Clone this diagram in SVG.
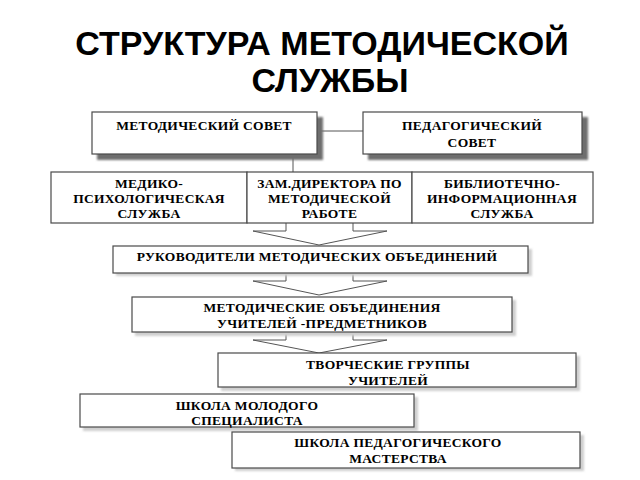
<svg xmlns="http://www.w3.org/2000/svg" width="640" height="480" viewBox="0 0 640 480">
<defs>
<filter id="sh" x="-10%" y="-20%" width="130%" height="160%"><feGaussianBlur stdDeviation="1"/></filter>
<style>
.title{font-family:"Liberation Sans",Arial,sans-serif;font-weight:bold;font-size:34px;fill:#000;text-anchor:middle}
.t{font-family:"Liberation Serif","DejaVu Serif",serif;font-weight:bold;font-size:13.5px;letter-spacing:0.3px;fill:#000;text-anchor:middle}
.box{fill:#fff;stroke:#4a4a4a;stroke-width:1.2}
.dsh{fill:#6e6e6e;filter:url(#sh)}
.lsh{fill:#cfcfcf;filter:url(#sh)}
.ln{stroke:#555;stroke-width:1;fill:none}
.arr{fill:#fff;stroke:#555;stroke-width:1}
</style>
</defs>
<rect width="640" height="480" fill="#fff"/>
<text class="title" x="322" y="55">СТРУКТУРА МЕТОДИЧЕСКОЙ</text>
<text class="title" x="330" y="92">СЛУЖБЫ</text>

<g id="connectors">
<line class="ln" x1="317" y1="131" x2="363" y2="131"/>
<line class="ln" x1="293" y1="154" x2="293" y2="172"/>
<path class="arr" d="M286,222 V231 H253 L319,245 L387,231 H353 V222"/>
<path class="arr" d="M286,273 V281 H253 L319,295 L387,281 H353 V273"/>
<path class="arr" d="M286,332 V340 H253 L319,353 L387,340 H353 V332"/>
</g>

<g id="metod-sovet">
<rect class="dsh" x="97" y="117" width="226" height="43"/>
<rect class="box" x="92" y="112" width="225" height="42"/>
<text class="t" x="204" y="130">МЕТОДИЧЕСКИЙ СОВЕТ</text>
</g>
<g id="ped-sovet">
<rect class="dsh" x="368" y="117" width="220" height="43"/>
<rect class="box" x="363" y="112" width="219" height="42"/>
<text class="t" x="472" y="130">ПЕДАГОГИЧЕСКИЙ</text>
<text class="t" x="472" y="147">СОВЕТ</text>
</g>

<g id="medpsy">
<rect class="box" x="51" y="172" width="196" height="51"/>
<text class="t" x="149" y="188">МЕДИКО-</text>
<text class="t" x="149" y="203">ПСИХОЛОГИЧЕСКАЯ</text>
<text class="t" x="149" y="218">СЛУЖБА</text>
</g>
<g id="zamdir">
<rect class="box" x="247" y="172" width="165" height="51"/>
<text class="t" x="329.5" y="188">ЗАМ.ДИРЕКТОРА ПО</text>
<text class="t" x="329.5" y="203">МЕТОДИЧЕСКОЙ</text>
<text class="t" x="329.5" y="218">РАБОТЕ</text>
</g>
<g id="biblio">
<rect class="box" x="412" y="172" width="181" height="51"/>
<text class="t" x="502" y="188">БИБЛИОТЕЧНО-</text>
<text class="t" x="502" y="203">ИНФОРМАЦИОННАЯ</text>
<text class="t" x="502" y="218">СЛУЖБА</text>
</g>

<g id="rukovod">
<rect class="lsh" x="116" y="249" width="416" height="27"/>
<rect class="box" x="113" y="246" width="415" height="27"/>
<text class="t" x="317" y="261">РУКОВОДИТЕЛИ  МЕТОДИЧЕСКИХ ОБЪЕДИНЕНИЙ</text>
</g>
<g id="mo">
<rect class="lsh" x="135" y="300" width="381" height="36"/>
<rect class="box" x="132" y="297" width="380" height="35"/>
<text class="t" x="322" y="312">МЕТОДИЧЕСКИЕ ОБЪЕДИНЕНИЯ</text>
<text class="t" x="322" y="328">УЧИТЕЛЕЙ -ПРЕДМЕТНИКОВ</text>
</g>
<g id="tvorch">
<rect class="lsh" x="221" y="356" width="359" height="35"/>
<rect class="box" x="218" y="353" width="358" height="34"/>
<text class="t" x="388" y="369">ТВОРЧЕСКИЕ ГРУППЫ</text>
<text class="t" x="388" y="385">УЧИТЕЛЕЙ</text>
</g>
<g id="shkola-mol">
<rect class="lsh" x="83" y="397" width="335" height="34"/>
<rect class="box" x="80" y="394" width="334" height="33"/>
<text class="t" x="247" y="410">ШКОЛА МОЛОДОГО</text>
<text class="t" x="247" y="425">СПЕЦИАЛИСТА</text>
</g>
<g id="shkola-ped">
<rect class="lsh" x="235" y="435" width="349" height="36"/>
<rect class="box" x="232" y="432" width="348" height="36"/>
<text class="t" x="398" y="447">ШКОЛА ПЕДАГОГИЧЕСКОГО</text>
<text class="t" x="398" y="463">МАСТЕРСТВА</text>
</g>
</svg>
